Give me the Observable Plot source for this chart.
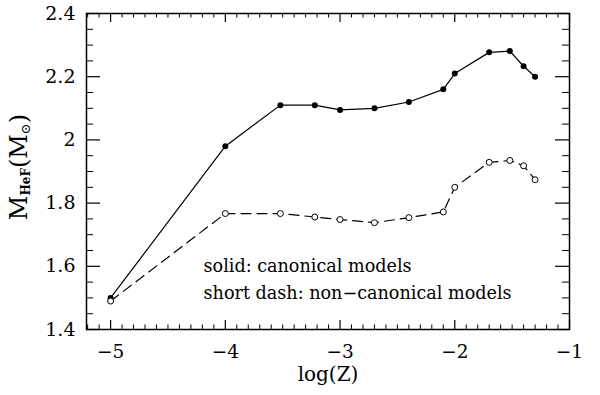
<!DOCTYPE html>
<html><head><meta charset="utf-8">
<script src="https://cdn.jsdelivr.net/npm/d3@7"></script>
<script src="https://cdn.jsdelivr.net/npm/@observablehq/plot@0.6"></script>
<style>body{margin:0;background:#fff}</style>
</head><body><div id="chart"></div>
<script>
const logZ = [-5, -4, -3.52, -3.22, -3.0, -2.70, -2.40, -2.10, -2.0, -1.70, -1.52, -1.40, -1.30];
const canonical = [1.50, 1.98, 2.11, 2.11, 2.095, 2.10, 2.12, 2.16, 2.21, 2.277, 2.281, 2.233, 2.20];
const nonCanonical = [1.49, 1.767, 1.767, 1.756, 1.748, 1.738, 1.754, 1.772, 1.85, 1.929, 1.935, 1.918, 1.874];
const xTicks = [-5, -4, -3, -2, -1];
const yTicks = [1.4, 1.6, 1.8, 2, 2.2, 2.4];
const notes = ["solid: canonical models", "short dash: non\u2212canonical models"];
const xLabel = "log(Z)";

const W = 600, H = 395, mL = 86, mR = 31, mT = 13, mB = 66;
const pw = W - mL - mR, ph = H - mT - mB;
const xMinor = d3.range(-52, -9).filter(d => d % 10 !== 0).map(d => d / 10);
const yMinor = d3.range(28, 49).filter(d => d % 4 !== 0).map(d => d / 20);
const idx = d3.range(logZ.length);
const font = "DejaVu Serif";
const fmtX = d => (d < 0 ? "\u2212" : "") + Math.abs(d);
const fmtY = d => String(d);

const plot = Plot.plot({
  width: W, height: H,
  marginLeft: mL, marginRight: mR, marginTop: mT, marginBottom: mB,
  style: {fontFamily: font, background: "#fff", color: "#000"},
  x: {domain: [-5.21, -1]},
  y: {domain: [1.4, 2.4]},
  marks: [
    Plot.frame({strokeWidth: 1.5}),
    Plot.ruleX(xTicks, {x: d => d, insetTop: ph - 9, strokeWidth: 1.2}),
    Plot.ruleX(xTicks, {x: d => d, insetBottom: ph - 9, strokeWidth: 1.2}),
    Plot.ruleX(xMinor, {x: d => d, insetTop: ph - 4.5, strokeWidth: 1}),
    Plot.ruleX(xMinor, {x: d => d, insetBottom: ph - 4.5, strokeWidth: 1}),
    Plot.ruleY(yTicks, {y: d => d, insetRight: pw - 14, strokeWidth: 1.2}),
    Plot.ruleY(yTicks, {y: d => d, insetLeft: pw - 14, strokeWidth: 1.2}),
    Plot.ruleY(yMinor, {y: d => d, insetRight: pw - 7, strokeWidth: 1}),
    Plot.ruleY(yMinor, {y: d => d, insetLeft: pw - 7, strokeWidth: 1}),
    Plot.axisX(xTicks, {tickSize: 0, tickPadding: 15, fontSize: 18.5, label: null, tickFormat: fmtX}),
    Plot.axisY(yTicks, {tickSize: 0, tickPadding: 11, fontSize: 19, label: null, tickFormat: fmtY}),
    Plot.text([xLabel], {frameAnchor: "bottom", lineAnchor: "middle", dy: 45, fontSize: 20, text: d => d}),
    Plot.line(idx, {x: i => logZ[i], y: i => canonical[i], strokeWidth: 1.2}),
    Plot.line(idx, {x: i => logZ[i], y: i => nonCanonical[i], strokeWidth: 1.2, strokeDasharray: "10,6"}),
    Plot.dot(idx, {x: i => logZ[i], y: i => canonical[i], r: 3, fill: "#000", stroke: "none"}),
    Plot.dot(idx, {x: i => logZ[i], y: i => nonCanonical[i], r: 3, fill: "#fff", stroke: "#000", strokeWidth: 1}),
    Plot.text(notes, {x: () => -4.19, y: (d, i) => [1.60, 1.514][i], text: d => d, textAnchor: "start", fontSize: 17.6})
  ]
});

const svg = d3.select(plot);
const t = svg.append("text")
  .attr("transform", "translate(27,167) rotate(-90)")
  .attr("text-anchor", "middle")
  .attr("font-family", font)
  .attr("font-size", 24)
  .attr("fill", "#000");
t.append("tspan").text("M");
t.append("tspan").attr("font-size", 12).attr("font-weight", "bold").attr("dy", 3).text("HeF");
t.append("tspan").attr("dy", -3).text("(M");
t.append("tspan").attr("font-size", 13).attr("dy", 3).text("\u2299");
t.append("tspan").attr("dy", -3).text(")");

document.getElementById("chart").appendChild(plot);
</script>
</body></html>
